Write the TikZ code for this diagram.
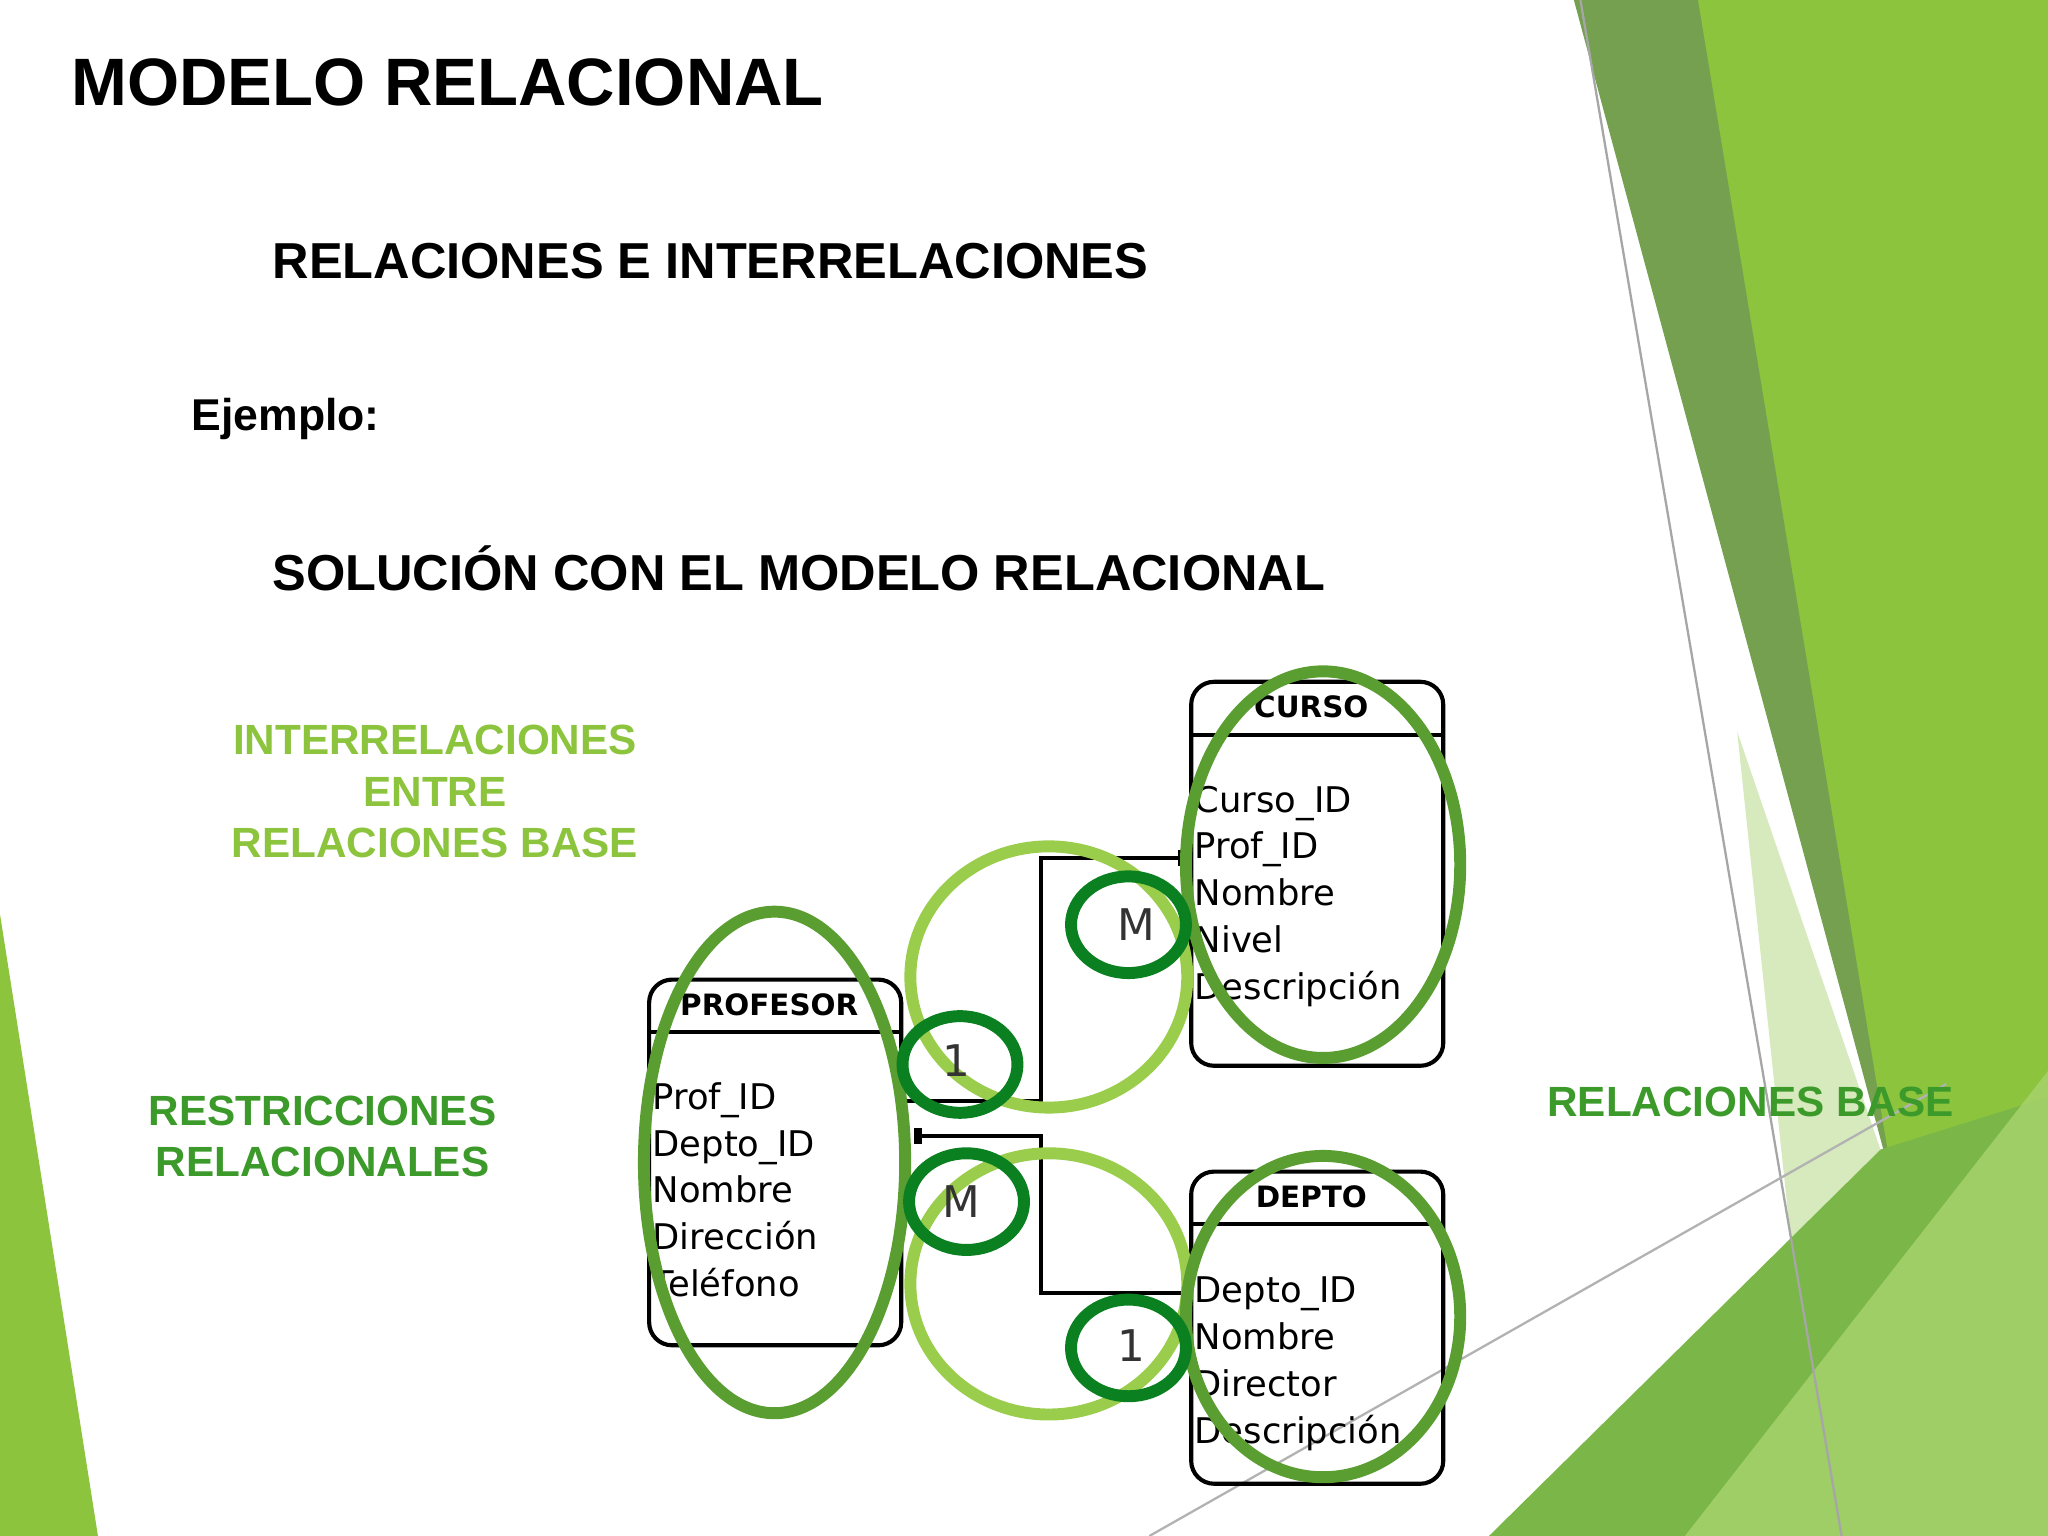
\documentclass[tikz,border=0pt]{standalone}
\usepackage{fontspec}
\setmainfont{Liberation Sans}
\newfontfamily\tbl{DejaVu Sans}
\definecolor{gbright}{HTML}{8CC43E}
\definecolor{gdark}{HTML}{74A050}
\definecolor{glight}{HTML}{D6EABD}
\definecolor{gmid}{HTML}{7AB648}
\definecolor{gsoft}{HTML}{A9D46E}
\definecolor{cdark}{HTML}{0A8020}
\definecolor{cmed}{HTML}{5A9E32}
\definecolor{clight}{HTML}{9ACD4C}
\definecolor{lbl}{HTML}{8CC43E}
\definecolor{lbl2}{HTML}{3B9A2A}
\tikzset{
  tbox/.style={draw,line width=0.9pt,rounded corners=5pt},
  field/.style={anchor=north west,font=\tbl\fontsize{7.7}{10.2}\selectfont,align=left,inner sep=0pt},
  hdr/.style={font=\tbl\bfseries\fontsize{6.4}{8}\selectfont,inner sep=0pt},
  conn/.style={line width=0.8pt},
  ringd/.style={draw=cdark,line width=2.6pt},
  ringm/.style={draw=cmed,line width=2.6pt},
  ringl/.style={draw=clight,line width=2.6pt},
  card/.style={font=\tbl\fontsize{9.5}{10}\selectfont,text=black!80},
  glabel/.style={font=\bfseries\fontsize{9.2}{11.2}\selectfont,align=center}
}
\begin{document}
\begin{tikzpicture}[x=0.01cm,y=-0.01cm]
\useasboundingbox (0,0) rectangle (1568,1176);
% decorations
\fill[gbright] (1290,0)--(1568,0)--(1568,1176)--(1450,1176)--(1450,910)--cycle;
\fill[gdark] (1205,0)--(1300,0)--(1450,910)--cycle;
\fill[glight] (1330,560)--(1450,910)--(1450,1176)--(1395,1176)--cycle;
\fill[gmid] (1140,1176)--(1440,880)--(1568,840)--(1568,1176)--cycle;
\fill[gsoft,opacity=.8] (1290,1176)--(1568,820)--(1568,1176)--cycle;
\fill[gbright] (0,700)--(75,1176)--(0,1176)--cycle;
\draw[gray!70,line width=0.5pt] (1210,0)--(1410,1176);
\draw[gray!60,line width=0.5pt] (880,1176)--(1490,830);
% texts
\node[anchor=west,inner sep=0pt,font=\bfseries\fontsize{14.6}{18}\selectfont] (t1) at (54,63) {MODELO RELACIONAL};
\node[anchor=west,inner sep=0pt,font=\bfseries\fontsize{11}{13}\selectfont] (t2) at (208,200) {RELACIONES E INTERRELACIONES};
\node[anchor=west,inner sep=0pt,font=\bfseries\fontsize{9.7}{12}\selectfont] (t3) at (146,321) {Ejemplo:};
\node[anchor=west,inner sep=0pt,font=\bfseries\fontsize{11}{13}\selectfont] (t4) at (208,435) {SOLUCIÓN CON EL MODELO RELACIONAL};
\node[glabel,text=lbl] (l1) at (333,606) {INTERRELACIONES\\ENTRE\\RELACIONES BASE};
\node[glabel,text=lbl2] (l2) at (247,870) {RESTRICCIONES\\RELACIONALES};
\node[glabel,text=lbl2,anchor=west,inner sep=0pt] (l3) at (1184,844) {RELACIONES BASE};
% tables
\draw[tbox] (497,750) rectangle (690,1030); \draw[line width=0.9pt] (497,790)--(690,790);
\node[hdr] (hp) at (589,769) {PROFESOR};
\node[field] (fp) at (499,828) {Prof\_ID\\Depto\_ID\\Nombre\\Dirección\\Teléfono};
\draw[tbox] (912,522) rectangle (1105,816); \draw[line width=0.9pt] (912,563)--(1105,563);
\node[hdr] (hc) at (1004,541) {CURSO};
\node[field] (fc) at (914,601) {Curso\_ID\\Prof\_ID\\Nombre\\Nivel\\Descripción};
\draw[tbox] (912,897) rectangle (1105,1136); \draw[line width=0.9pt] (912,937)--(1105,937);
\node[hdr] (hd) at (1004,916) {DEPTO};
\node[field] (fd) at (914,977) {Depto\_ID\\Nombre\\Director\\Descripción};
% connectors
\coordinate (a1) at (690,843); \coordinate (a2) at (908,657);
\draw[conn] (a1) -- (797,843) |- (a2);
\fill (902,651) rectangle (907,663);
\coordinate (b1) at (700,870); \coordinate (b2) at (912,990);
\draw[conn] (b1) -- (797,870) |- (b2);
\fill (700,864) rectangle (706,876);
% rings
\draw[ringl] (803,748) ellipse (106 and 100);
\draw[ringl] (803,983) ellipse (106 and 100);
\draw[ringm] (593,890) ellipse (100 and 192);
\draw[ringm] (1013,662) ellipse (105 and 148);
\draw[ringm] (1013,1008) ellipse (105 and 123);
\draw[ringd] (864,708) ellipse (44 and 37);
\draw[ringd] (735,815) ellipse (44 and 37);
\draw[ringd] (740,920) ellipse (44 and 37);
\draw[ringd] (864,1032) ellipse (44 and 37);
\node[card] (m1) at (870,708) {M};
\node[card] (o1) at (732,812) {1};
\node[card] (m2) at (736,920) {M};
\node[card] (o2) at (866,1030) {1};
\end{tikzpicture}
\end{document}
